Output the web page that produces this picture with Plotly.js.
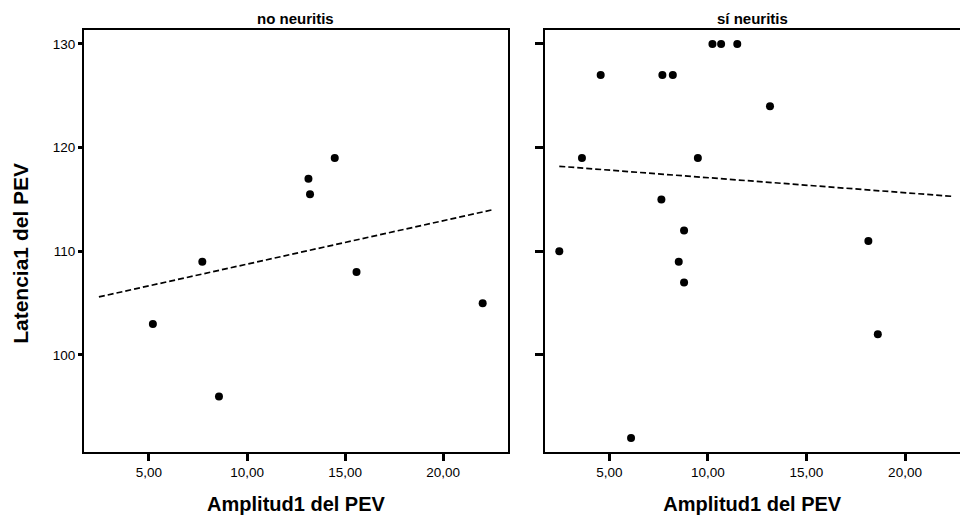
<!DOCTYPE html>
<html>
<head>
<meta charset="utf-8">
<script src="https://cdn.plot.ly/plotly-3.0.1.min.js"></script>
<style>
  html, body { margin: 0; padding: 0; background: #ffffff; }
  #chart { width: 960px; height: 519px; }
</style>
</head>
<body>
<div id="chart"></div>
<script>
// Latencia1 vs Amplitud1 del PEV, split by neuritis group
const panelTitles = ["no neuritis", "sí neuritis"];
const xTitle = "Amplitud1 del PEV";
const yTitle = "Latencia1 del PEV";

const noNeuritisAmp = [14.47, 13.13, 13.21, 7.72, 15.58, 22.01, 5.20, 8.57];
const noNeuritisLat = [119, 117, 115.5, 109, 108, 105, 103, 96];

const siNeuritisAmp = [10.23, 10.67, 11.49, 4.56, 7.69, 8.22, 13.15, 3.61, 9.49,
                       7.64, 8.79, 18.14, 2.46, 8.52, 8.79, 18.62, 6.10];
const siNeuritisLat = [130, 130, 130, 127, 127, 127, 124, 119, 119,
                       115, 112, 111, 110, 109, 107, 102, 92];

// fitted regression lines (end points)
const noNeuritisFitX = [2.45, 22.5];
const noNeuritisFitY = [105.6, 114.0];
const siNeuritisFitX = [2.46, 22.41];
const siNeuritisFitY = [118.2, 115.3];

const xTickVals = [5, 10, 15, 20];
const xTickText = ["5,00", "10,00", "15,00", "20,00"];
const yTickVals = [100, 110, 120, 130];
const yTickText = ["100", "110", "120", "130"];

const FONT = "Liberation Sans, Arial, Helvetica, sans-serif";

const dotStyle = { color: "#000000", size: 8, symbol: "circle" };
const fitStyle = { color: "#000000", width: 1.7, dash: "6px,3px" };

const data = [
  { type: "scatter", mode: "markers", x: noNeuritisAmp, y: noNeuritisLat,
    xaxis: "x", yaxis: "y", marker: dotStyle, hoverinfo: "x+y" },
  { type: "scatter", mode: "lines", x: noNeuritisFitX, y: noNeuritisFitY,
    xaxis: "x", yaxis: "y", line: fitStyle, hoverinfo: "skip" },
  { type: "scatter", mode: "markers", x: siNeuritisAmp, y: siNeuritisLat,
    xaxis: "x2", yaxis: "y2", marker: dotStyle, hoverinfo: "x+y" },
  { type: "scatter", mode: "lines", x: siNeuritisFitX, y: siNeuritisFitY,
    xaxis: "x2", yaxis: "y2", line: fitStyle, hoverinfo: "skip" }
];

const xCommon = {
  showgrid: false, zeroline: false,
  showline: true, linecolor: "#000000", linewidth: 2,
  ticks: "outside", ticklen: 7, tickwidth: 3, tickcolor: "#000000",
  tickmode: "array", tickvals: xTickVals, ticktext: xTickText,
  tickfont: { family: FONT, size: 13.5, color: "#000000" },
  title: { text: xTitle, standoff: 18,
           font: { family: FONT, size: 20, color: "#000000", weight: "bold" } }
};

const yCommon = {
  showgrid: false, zeroline: false,
  showline: true, linecolor: "#000000", linewidth: 2,
  ticks: "outside", tickwidth: 3, tickcolor: "#000000",
  tickmode: "array", tickvals: yTickVals, ticktext: yTickText,
  range: [90.64, 131.35],
  tickfont: { family: FONT, size: 13.5, color: "#000000" }
};

const layout = {
  width: 960, height: 519,
  margin: { l: 84, r: 0, t: 30, b: 67, pad: 0 },
  paper_bgcolor: "#ffffff", plot_bgcolor: "#ffffff",
  showlegend: false,
  font: { family: FONT, color: "#000000" },
  xaxis: Object.assign({}, xCommon, {
    domain: [0, 0.484], range: [1.69, 23.3], mirror: true, anchor: "y"
  }),
  xaxis2: Object.assign({}, xCommon, {
    domain: [0.5257, 1], range: [1.71, 22.79], mirror: true, anchor: "y2"
  }),
  yaxis: Object.assign({}, yCommon, {
    domain: [0, 1], anchor: "x", mirror: true, ticklen: 4
  }),
  yaxis2: Object.assign({}, yCommon, {
    domain: [0, 1], anchor: "x2", mirror: false, ticklen: 8,
    showticklabels: false
  }),
  annotations: [
    { text: panelTitles[0], xref: "x domain", yref: "paper", x: 0.5, y: 1,
      xanchor: "center", yanchor: "bottom", yshift: 1, showarrow: false,
      font: { family: FONT, size: 15, color: "#000000", weight: "bold" } },
    { text: panelTitles[1], xref: "x2 domain", yref: "paper", x: 0.5, y: 1,
      xanchor: "center", yanchor: "bottom", yshift: 1, showarrow: false,
      font: { family: FONT, size: 15, color: "#000000", weight: "bold" } },
    // shared vertical title for the latency axis
    { text: yTitle, xref: "paper", yref: "paper", x: -0.0721, y: 0.4716,
      xanchor: "center", yanchor: "middle", textangle: -90, showarrow: false,
      font: { family: FONT, size: 21, color: "#000000", weight: "bold" } }
  ]
};

Plotly.newPlot("chart", data, layout, { staticPlot: true, displayModeBar: false });
</script>
</body>
</html>
